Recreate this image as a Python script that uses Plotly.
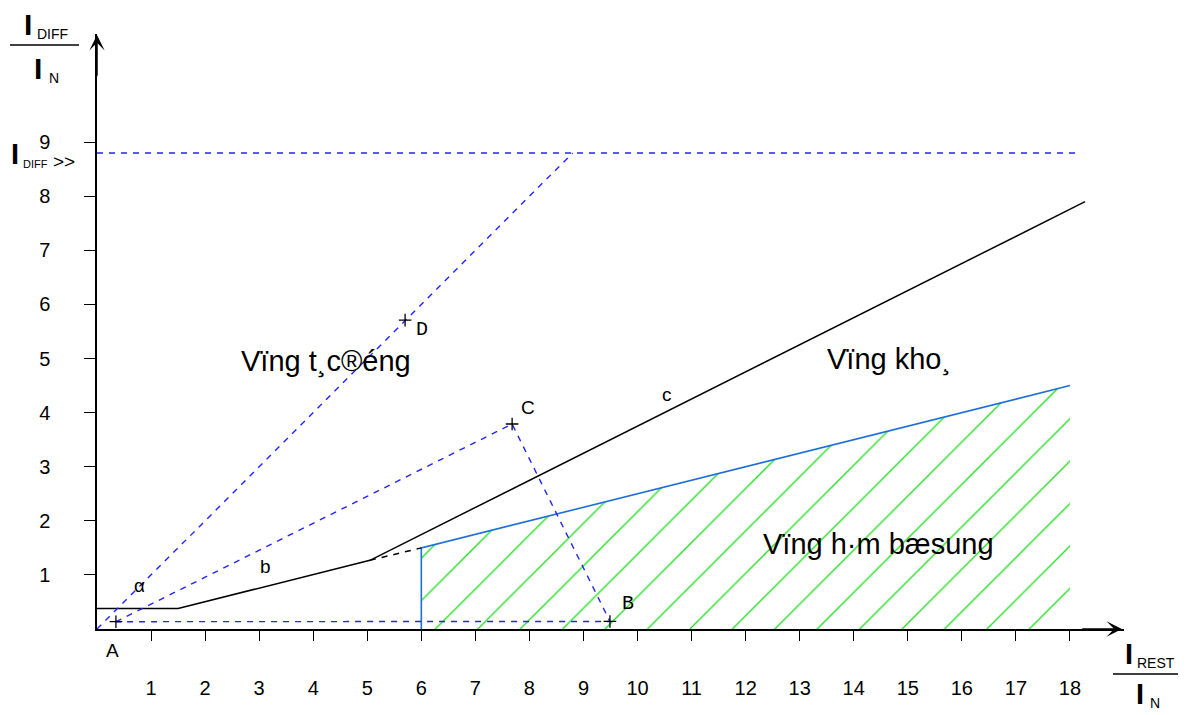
import plotly.graph_objects as go

# ---------------- data ----------------
x_ticks = list(range(1, 19))
y_ticks = list(range(1, 10))

# tripping characteristic (black)
char_x = [0.0, 1.5, 5.05, 18.28]
char_y = [0.38, 0.38, 1.27, 7.90]
# dashed continuation of section b up to the add-on area
ext_x = [5.05, 6.0]
ext_y = [1.27, 1.5]
# add-on stabilisation border (blue)
addon_x = [6.0, 6.0, 18.0]
addon_y = [0.0, 1.5, 4.5]
# hatched add-on stabilisation area
area_x = [6.0, 6.0, 18.0, 18.0, 6.0]
area_y = [0.0, 1.5, 4.5, 0.0, 0.0]
# I_DIFF>> threshold and trajectory through D
hi_x = [0.0, 18.2]
hi_y = [8.8, 8.8]
od_x = [0.0, 8.8]
od_y = [0.0, 8.8]
# trajectory A -> C -> B -> A
acb_x = [0.35, 7.68, 9.49, 0.35]
acb_y = [0.135, 3.79, 0.14, 0.135]
# marked points
pt_names = ["A", "B", "C", "D"]
pt_x = [0.35, 9.49, 7.68, 5.70]
pt_y = [0.135, 0.14, 3.79, 5.71]

# ---------------- layout geometry ----------------
OFF = 8                      # page body margin of the browser
FIG_W, FIG_H = 1186 - OFF, 715 - OFF
L, T = 97 - OFF, 34 - OFF
PW, PH = 1027, 595
X_MAX, Y_MAX = 19.0, 11.0


def px(x):
    # x given in window pixels
    return (x - OFF - L) / PW


def py(y):
    return (T + PH - (y - OFF)) / PH


BLACK = "black"
DASH_BLUE = "#2424f2"
LINE_BLUE = "#1c70d8"
GREEN = "#1ee01e"

fig = go.Figure()

fig.add_trace(go.Scatter(
    x=area_x, y=area_y, mode="lines", fill="toself",
    fillcolor="rgba(0,0,0,0)",
    fillpattern=dict(shape="/", fgcolor=GREEN, bgcolor="rgba(0,0,0,0)",
                     fgopacity=1, size=30, solidity=0.045, fillmode="overlay"),
    line=dict(width=0, color="rgba(0,0,0,0)"), hoverinfo="skip"))

fig.add_trace(go.Scatter(x=addon_x, y=addon_y, mode="lines",
                         line=dict(color=LINE_BLUE, width=1.6)))
fig.add_trace(go.Scatter(x=char_x, y=char_y, mode="lines",
                         line=dict(color=BLACK, width=1.5)))
fig.add_trace(go.Scatter(x=ext_x, y=ext_y, mode="lines",
                         line=dict(color=BLACK, width=1.5, dash="6px,6px")))
for xs, ys in [(hi_x, hi_y), (od_x, od_y), (acb_x, acb_y)]:
    fig.add_trace(go.Scatter(x=xs, y=ys, mode="lines",
                             line=dict(color=DASH_BLUE, width=1.4, dash="6px,6px")))
fig.add_trace(go.Scatter(x=pt_x, y=pt_y, mode="markers",
                         marker=dict(symbol="cross-thin", size=9, color=BLACK,
                                     line=dict(color=BLACK, width=1.3))))

annotations = []

# point and segment letters
lab_font = dict(family="Liberation Sans", size=19, color=BLACK)
mono_font = dict(family="Liberation Mono", size=20, color=BLACK)
letters = [
    ("B", 9.82, 0.48, mono_font),
    ("C", 7.97, 4.10, lab_font),
    ("D", 6.01, 5.53, mono_font),
    ("α", 0.78, 0.81, lab_font),
    ("b", 3.11, 1.15, lab_font),
    ("c", 10.54, 4.33, lab_font),
]
for t, x, y, f in letters:
    annotations.append(dict(x=x, y=y, xref="x", yref="y", text=t, showarrow=False,
                            font=f, xanchor="center", yanchor="middle"))
# "A" lies below the x axis (outside the axis range) -> paper coordinates
annotations.append(dict(x=px(112), y=py(650), xref="paper", yref="paper", text="A",
                        showarrow=False, font=lab_font, xanchor="center",
                        yanchor="middle"))

# region names
reg_font = dict(family="Liberation Sans", size=29, color=BLACK)
regions = [
    ("Vïng t¸c®éng", 4.24, 4.95),
    ("Vïng kho¸", 14.65, 4.98),
    ("Vïng h·m bæsung", 14.45, 1.58),
]
for t, x, y in regions:
    annotations.append(dict(x=x, y=y, xref="x", yref="y", text=t, showarrow=False,
                            font=reg_font, xanchor="center", yanchor="middle"))

# axis arrow heads
annotations.append(dict(x=18.96, y=0, ax=18.2, ay=0, xref="x", yref="y",
                        axref="x", ayref="y", text="", showarrow=True,
                        arrowhead=3, arrowsize=1.7, arrowwidth=1.5,
                        arrowcolor=BLACK, standoff=0, startstandoff=0))
annotations.append(dict(x=0, y=10.98, ax=0, ay=10.2, xref="x", yref="y",
                        axref="x", ayref="y", text="", showarrow=True,
                        arrowhead=3, arrowsize=1.7, arrowwidth=1.5,
                        arrowcolor=BLACK, standoff=0, startstandoff=0))


def ptext(text, x, y, size, bold=False):
    if bold:
        text = "<b>" + text + "</b>"
    annotations.append(dict(x=px(x), y=py(y), xref="paper", yref="paper", text=text,
                            showarrow=False, xanchor="center", yanchor="middle",
                            font=dict(family="Liberation Sans", size=size, color=BLACK)))


# y-axis title  I_DIFF / I_N
ptext("I", 28, 24, 30, True)
ptext("DIFF", 52, 34, 14)
ptext("I", 37.5, 68, 30, True)
ptext("N", 54, 78, 14)
# I_DIFF>> threshold label
ptext("I", 15, 154, 29, True)
ptext("DIFF", 35, 164, 11)
ptext("&gt;&gt;", 64, 161, 19)
# x-axis title  I_REST / I_N
ptext("I", 1129, 654, 29, True)
ptext("REST", 1156, 663, 14)
ptext("I", 1140, 694, 29, True)
ptext("N", 1155, 703, 14)

shapes = [
    dict(type="line", xref="paper", yref="paper", x0=px(10), x1=px(79),
         y0=py(45), y1=py(45), line=dict(color=BLACK, width=1.5)),
    dict(type="line", xref="paper", yref="paper", x0=px(1113), x1=px(1182),
         y0=py(674), y1=py(674), line=dict(color=BLACK, width=1.5)),
]

tick_font = dict(family="Liberation Sans Narrow, Liberation Sans", size=20, color=BLACK)

fig.update_layout(
    width=FIG_W, height=FIG_H,
    margin=dict(l=L, r=FIG_W - L - PW, t=T, b=FIG_H - T - PH, pad=0, autoexpand=False),
    paper_bgcolor="white", plot_bgcolor="white",
    showlegend=False,
    annotations=annotations,
    shapes=shapes,
    xaxis=dict(range=[0, X_MAX], tickvals=x_ticks, ticktext=[str(v) for v in x_ticks],
               showgrid=False, zeroline=False, showline=True, linecolor=BLACK,
               linewidth=1.5, ticks="outside", ticklen=10, tickwidth=1.4,
               tickcolor=BLACK, tickfont=tick_font, ticklabelstandoff=30,
               automargin=False, fixedrange=True),
    yaxis=dict(range=[0, Y_MAX], tickvals=y_ticks, ticktext=[str(v) for v in y_ticks],
               showgrid=False, zeroline=False, showline=True, linecolor=BLACK,
               linewidth=1.5, ticks="outside", ticklen=11, tickwidth=1.4,
               tickcolor=BLACK, tickfont=tick_font, ticklabelstandoff=30,
               automargin=False, fixedrange=True),
)

fig.write_html("out.html")
